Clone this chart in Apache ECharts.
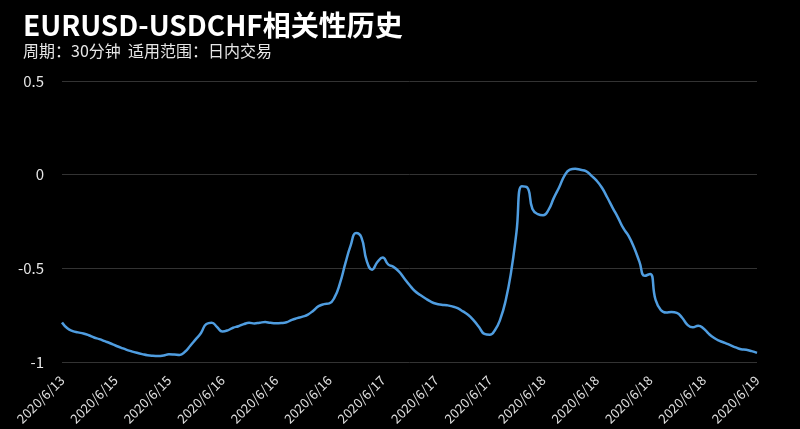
<!DOCTYPE html>
<html>
<head>
<meta charset="utf-8">
<script src="https://cdn.jsdelivr.net/npm/echarts@6/dist/echarts.min.js"></script>
<style>
html,body{margin:0;padding:0;background:#000;}
#main{width:800px;height:429px;}
</style>
</head>
<body>
<div id="main"></div>
<script>
// Date runs: [date label, number of 30-minute points shown for that day]
var dayRuns = [
  ['2020/6/13', 5],
  ['2020/6/15', 23],
  ['2020/6/16', 30],
  ['2020/6/17', 28],
  ['2020/6/18', 41],
  ['2020/6/19', 4]
];

var correlation = [
  -0.789, -0.820, -0.835, -0.842, -0.848, -0.857, -0.869, -0.878, -0.889, -0.900,
  -0.912, -0.923, -0.934, -0.943, -0.951, -0.958, -0.964, -0.967, -0.968, -0.965,
  -0.959, -0.960, -0.962, -0.945, -0.913, -0.879, -0.845, -0.797, -0.790, -0.813,
  -0.837, -0.831, -0.817, -0.809, -0.798, -0.791, -0.794, -0.790, -0.787, -0.791,
  -0.793, -0.792, -0.788, -0.775, -0.766, -0.758, -0.747, -0.726, -0.702, -0.691,
  -0.687, -0.654, -0.579, -0.474, -0.377, -0.312, -0.335, -0.460, -0.507, -0.466,
  -0.442, -0.479, -0.492, -0.516, -0.553, -0.589, -0.621, -0.642, -0.661, -0.678,
  -0.689, -0.694, -0.697, -0.703, -0.713, -0.730, -0.749, -0.778, -0.813, -0.850,
  -0.855, -0.829, -0.770, -0.670, -0.520, -0.309, -0.062, -0.068, -0.183, -0.211,
  -0.217, -0.188, -0.124, -0.067, -0.005, 0.027, 0.032, 0.026, 0.019, -0.005,
  -0.032, -0.070, -0.122, -0.177, -0.229, -0.286, -0.328, -0.389, -0.464, -0.540,
  -0.530, -0.665, -0.722, -0.736, -0.733, -0.738, -0.764, -0.802, -0.815, -0.806,
  -0.821, -0.850, -0.872, -0.887, -0.898, -0.910, -0.922, -0.932, -0.935, -0.942,
  -0.951
];

var yTicks = [-1, -0.5, 0, 0.5];

var categories = [];
dayRuns.forEach(function (r) {
  for (var k = 0; k < r[1]; k++) categories.push(r[0]);
});

var chart = echarts.init(document.getElementById('main'), null, {renderer: 'canvas'});
var FONT = '"Noto Sans CJK SC", "Noto Sans", sans-serif';
chart.setOption({
  backgroundColor: '#000000',
  animation: false,
  title: {
    text: 'EURUSD-USDCHF相关性历史',
    subtext: '周期：30分钟  适用范围：日内交易',
    left: 18,
    top: 6,
    itemGap: 4,
    textStyle: {color: '#ffffff', fontSize: 28, fontWeight: 'bold', fontFamily: FONT},
    subtextStyle: {color: '#e6e6e6', fontSize: 16, fontFamily: FONT}
  },
  grid: {left: 62, right: 43, top: 81, bottom: 67, containLabel: false},
  xAxis: {
    type: 'category',
    data: categories,
    boundaryGap: false,
    axisLine: {show: false},
    axisTick: {show: false},
    axisLabel: {
      interval: 9,
      rotate: 45,
      color: '#e0e0e0',
      fontSize: 13,
      fontFamily: FONT,
      margin: 16
    },
    splitLine: {show: false}
  },
  yAxis: {
    type: 'value',
    min: yTicks[0],
    max: yTicks[yTicks.length - 1],
    interval: 0.5,
    axisLine: {show: false},
    axisTick: {show: false},
    axisLabel: {color: '#e6e6e6', fontSize: 15, fontFamily: FONT, margin: 18},
    splitLine: {lineStyle: {color: '#333333', width: 1}}
  },
  series: [{
    type: 'line',
    data: correlation,
    smooth: true,
    showSymbol: false,
    lineStyle: {color: '#4f9de0', width: 2.5}
  }]
});
</script>
</body>
</html>
